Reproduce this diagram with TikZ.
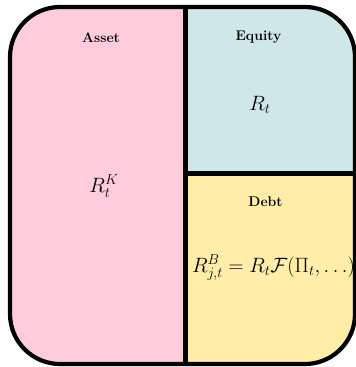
\documentclass[tikz,border=0pt]{standalone}
\usepackage{amsmath}
\definecolor{assetpink}{RGB}{255,204,220}
\definecolor{equitycyan}{RGB}{208,231,232}
\definecolor{debtyellow}{RGB}{255,237,168}
\begin{document}
\begin{tikzpicture}[x=1pt,y=-1pt,
  title/.style={anchor=base,font=\fontsize{14}{16}\selectfont\bfseries,inner sep=0pt},
  mathlbl/.style={anchor=base,font=\fontsize{21}{24}\selectfont,inner sep=0pt},
  border/.style={line width=4.2pt}]
\useasboundingbox (0,0) rectangle (356,367);
\coordinate (tl) at (10,7);
\coordinate (br) at (355,364);
\coordinate (vtop) at (185.5,7);
\coordinate (vbot) at (185.5,364);
\coordinate (hl) at (185.5,173.5);
\coordinate (hr) at (355,173.5);
\begin{scope}
  \clip[rounded corners=50pt] (tl) rectangle (br);
  \fill[assetpink] (tl) rectangle (vbot);
  \fill[equitycyan] (vtop) rectangle (hr);
  \fill[debtyellow] (hl) rectangle (br);
\end{scope}
\draw[border] (vtop) -- (vbot);
\draw[border] (hl) -- (hr);
\draw[border,rounded corners=50pt] (tl) rectangle (br);
\node[title] (asset) at (101,42) {Asset};
\node[title] (equity) at (258.5,40) {Equity};
\node[title] (debt) at (265.5,206) {Debt};
\node[mathlbl] (rk) at (104,192.5) {$R_t^K$};
\node[mathlbl] (rt) at (260,110) {$R_t$};
\node[mathlbl] (rb) at (273.5,272) {$R_{j,t}^{B} = R_t\mathcal{F}(\Pi_t, \ldots)$};
\end{tikzpicture}
\end{document}
